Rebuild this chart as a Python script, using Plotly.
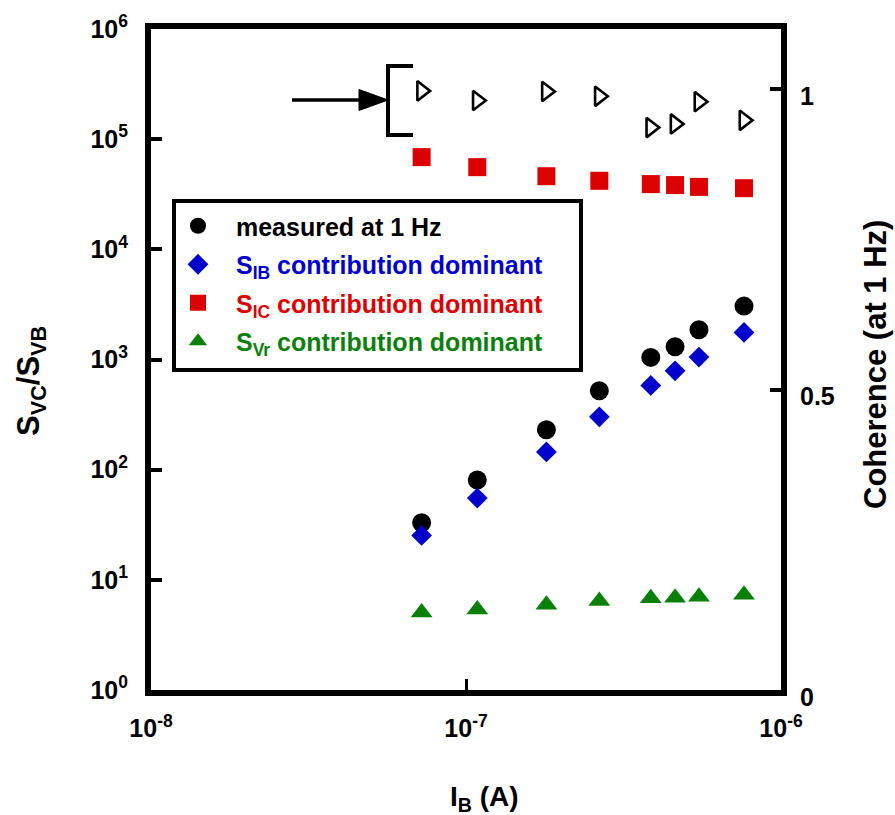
import plotly.graph_objects as go

# ---- data ----
ib = [7.23e-8, 1.086e-7, 1.80e-7, 2.65e-7, 3.86e-7, 4.61e-7, 5.49e-7, 7.63e-7]
measured = [33.0, 80.5, 230, 520, 1045, 1304, 1861, 3052]
s_ib = [25.3, 55.2, 145, 302, 582, 789, 1052, 1762]
s_ic = [68700, 55700, 46100, 41900, 39100, 38300, 36900, 35900]
s_vr = [5.04, 5.37, 5.93, 6.42, 6.79, 6.89, 7.04, 7.34]
coherence = [0.997, 0.981, 0.996, 0.988, 0.936, 0.942, 0.979, 0.948]

x_tickvals = [1e-8, 1e-7, 1e-6]
x_ticktext = ["10<sup>-8</sup>", "10<sup>-7</sup>", "10<sup>-6</sup>"]
y_tickvals = [1, 10, 100, 1e3, 1e4, 1e5, 1e6]
y_ticktext = ["10<sup>%d</sup>" % i for i in range(7)]
y2_tickvals = [0, 0.5, 1]
y2_ticktext = ["0", "0.5", "1"]

names = [
    "\u00a0measured at 1 Hz",
    '<span style="color:#0000CC">\u00a0S<sub>IB</sub> contribution dominant</span>',
    '<span style="color:#DD0000">\u00a0S<sub>IC</sub> contribution dominant</span>',
    '<span style="color:#0A800A">\u00a0S<sub>Vr</sub> contribution dominant</span>',
]

FONT = "Liberation Sans, Arial, sans-serif"

fig = go.Figure()
fig.add_trace(go.Scatter(x=ib, y=measured, mode="markers", name=names[0], legendgroup="a",
                         marker=dict(symbol="circle", size=19, color="#000000")))
fig.add_trace(go.Scatter(x=ib, y=s_ib, mode="markers", name=names[1], legendgroup="b",
                         marker=dict(symbol="diamond", size=16, color="#0000CC")))
fig.add_trace(go.Scatter(x=ib, y=s_ic, mode="markers", name=names[2], legendgroup="c",
                         marker=dict(symbol="square", size=18, color="#DD0000")))
fig.add_trace(go.Scatter(x=ib, y=s_vr, mode="markers", name=names[3], legendgroup="d",
                         marker=dict(symbol="triangle-up", size=19, color="#0A800A")))
fig.add_trace(go.Scatter(x=ib, y=coherence, mode="markers", yaxis="y2", showlegend=False,
                         marker=dict(symbol="triangle-right-open", size=17, color="#000000",
                                     line=dict(width=2.6, color="#000000"))))

L, R, T, B = 151, 114, 29, 125
W, H = 895, 815
pw, ph = W - L - R, H - T - B

def px(x):
    return (x - L) / pw

def py(y):
    return (H - B - y) / ph

shapes = [
    # legend frame
    dict(type="rect", xref="paper", yref="paper", x0=px(174), x1=px(581), y0=py(201), y1=py(370),
         line=dict(color="black", width=4), fillcolor="white", layer="below"),
    # arrow shaft
    dict(type="line", xref="paper", yref="paper", x0=px(292), x1=px(362), y0=py(100), y1=py(100),
         line=dict(color="black", width=3.5)),
    # arrow head
    dict(type="path", xref="paper", yref="paper",
         path="M%f,%f L%f,%f L%f,%f Z" % (px(359), py(89.5), px(388), py(100), px(359), py(110.5)),
         fillcolor="black", line=dict(color="black", width=1)),
    # bracket
    dict(type="path", xref="paper", yref="paper",
         path="M%f,%f L%f,%f L%f,%f L%f,%f" % (px(413), py(66), px(388), py(66), px(388), py(135), px(413), py(135)),
         line=dict(color="black", width=4)),
]

annotations = [
    dict(text="<b>S<sub>VC</sub>/S<sub>VB</sub></b>", xref="paper", yref="paper",
         x=px(31), y=py(381), xanchor="center", yanchor="middle", textangle=-90,
         showarrow=False, font=dict(size=31, family=FONT, color="black")),
    dict(text="<b>Coherence (at 1 Hz)</b>", xref="paper", yref="paper",
         x=px(875), y=py(365), xanchor="center", yanchor="middle", textangle=-90,
         showarrow=False, font=dict(size=31, family=FONT, color="black")),
    dict(text="<b>I<sub>B</sub> (A)</b>", xref="paper", yref="paper",
         x=px(484), y=py(798), xanchor="center", yanchor="middle",
         showarrow=False, font=dict(size=28, family=FONT, color="black")),
]

fig.update_layout(
    width=W, height=H, autosize=False,
    margin=dict(l=L, r=R, t=T, b=B, pad=0),
    plot_bgcolor="white", paper_bgcolor="white",
    font=dict(family=FONT, color="black"),
    xaxis=dict(type="log", range=[-8, -6], tickvals=x_tickvals, ticktext=x_ticktext,
               showline=True, linewidth=6, linecolor="black", mirror=True,
               ticks="inside", ticklen=11, tickwidth=3, tickcolor="black",
               showgrid=False, zeroline=False, ticklabelstandoff=11,
               tickfont=dict(size=25, family=FONT, weight="bold")),
    yaxis=dict(type="log", range=[0, 6], tickvals=y_tickvals, ticktext=y_ticktext,
               showline=True, linewidth=6, linecolor="black", mirror=True,
               ticks="inside", ticklen=11, tickwidth=4, tickcolor="black",
               showgrid=False, zeroline=False, ticklabelstandoff=12,
               tickfont=dict(size=25, family=FONT, weight="bold")),
    yaxis2=dict(overlaying="y", side="right", range=[0, 1.1],
                tickvals=y2_tickvals, ticktext=y2_ticktext,
                showline=True, linewidth=6, linecolor="black",
                ticks="inside", ticklen=11, tickwidth=4, tickcolor="black",
                showgrid=False, zeroline=False, ticklabelstandoff=8, ticklabelshift=7,
                tickfont=dict(size=25, family=FONT, weight="bold")),
    legend=dict(x=px(167), y=py(203), xanchor="left", yanchor="top",
                borderwidth=0, bgcolor="rgba(0,0,0,0)",
                traceorder="grouped", tracegroupgap=3, itemwidth=52,
                font=dict(size=25, family=FONT, weight="bold", color="black")),
    shapes=shapes,
    annotations=annotations,
)

fig.write_html("out.html")
